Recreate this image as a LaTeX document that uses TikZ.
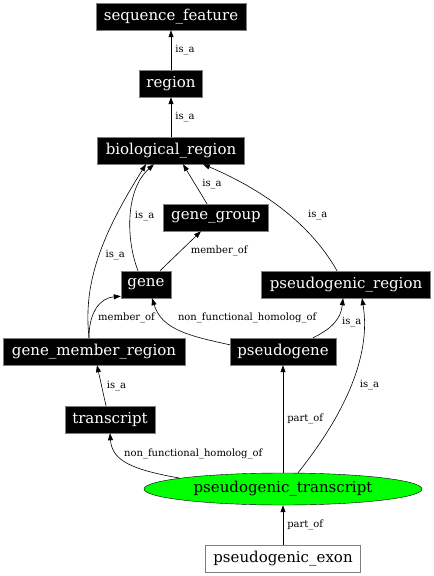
\documentclass[tikz,border=0pt]{standalone}
\usepackage{fontspec}
\setmainfont{DejaVu Serif}
\usepackage{xcolor}
\usetikzlibrary{arrows.meta,shapes.geometric}
\definecolor{Frame}{HTML}{7F7F7F}
\definecolor{Leaf}{HTML}{00FF00}

\begin{document}
\begin{tikzpicture}[x=1pt, y=-1pt,
  term/.style={draw=Frame, fill=black, text=white, inner xsep=4pt,
    minimum height=27pt, font=\fontsize{15pt}{17pt}\selectfont},
  focus/.style={ellipse, draw=black, fill=Leaf, inner sep=0pt,
    minimum width=278pt, minimum height=32pt, font=\fontsize{15pt}{17pt}\selectfont},
  plain/.style={term, fill=white, text=black},
  rel/.style={-{Triangle[length=7pt,width=5pt]}, line width=0.6pt, draw=black},
  lbl/.style={font=\fontsize{10pt}{12pt}\selectfont, inner sep=2pt}
]
  \useasboundingbox (0,0) rectangle (434,576);

  \node[term, minimum width=150pt] (seqfeat) at (171,16.5) {sequence\_feature};
  \node[term, minimum width=63pt] (region) at (171,83.5) {region};
  \node[term, minimum width=147pt] (bioreg) at (171,150.5) {biological\_region};
  \node[term, minimum width=105pt] (genegroup) at (216,217.5) {gene\_group};
  \node[term, minimum width=50pt] (gene) at (146,284.5) {gene};
  \node[term, minimum width=169pt] (pseuregion) at (346,284.5) {pseudogenic\_region};
  \node[term, minimum width=182pt] (genemember) at (94,351.5) {gene\_member\_region};
  \node[term, minimum width=106pt] (pseudogene) at (283,351.5) {pseudogene};
  \node[term, minimum width=90pt] (transcript) at (110,419.5) {transcript};
  \node[focus] (pseutrans) at (283,489) {pseudogenic\_transcript};
  \node[plain, minimum width=155pt] (pseuexon) at (283,558.5) {pseudogenic\_exon};

  \draw[rel] (region) -- node[lbl, right=2pt] {is\_a} (seqfeat);
  \draw[rel] (bioreg) -- node[lbl, right=2pt] {is\_a} (region);
  \draw[rel] ([xshift=-9pt]genegroup.north) -- node[lbl, right=5pt] {is\_a} ([xshift=12pt]bioreg.south);
  \draw[rel] ([xshift=-8pt]gene.north) .. controls (126,240) and (125,190) .. node[lbl, pos=0.5, right=2pt] {is\_a} ([xshift=-17pt]bioreg.south);
  \draw[rel] ([xshift=-5pt]genemember.north) .. controls (84,290) and (95,245) .. node[lbl, pos=0.55, right=4pt] {is\_a} ([xshift=-25pt]bioreg.south);
  \draw[rel] ([xshift=-9pt]pseuregion.north) .. controls (315,232) and (275,195) .. node[lbl, pos=0.5, right=17pt] {is\_a} ([xshift=32pt]bioreg.south);
  \draw[rel] ([xshift=14pt]gene.north) -- node[lbl, right=8pt] {member\_of} ([xshift=-15pt]genegroup.south);
  \draw[rel] ([xshift=-5pt]genemember.north) .. controls (89,312) and (100,298) .. node[lbl, pos=0.3, right=4pt] {member\_of} ([yshift=2pt]gene.south west);
  \draw[rel] ([yshift=-7pt]pseudogene.north west) .. controls (190,336) and (162,330) .. node[lbl, pos=0.5, anchor=west, xshift=-4pt, yshift=12pt] {non\_functional\_homolog\_of} ([xshift=6pt]gene.south);
  \draw[rel] ([xshift=30pt]pseudogene.north) .. controls (333,328) and (341,318) .. node[lbl, pos=0.5, right=5pt] {is\_a} ([xshift=-3pt]pseuregion.south);
  \draw[rel] ([xshift=-4pt]transcript.north) -- node[lbl, right=3pt] {is\_a} ([xshift=3pt]genemember.south);
  \draw[rel] (pseutrans.174) .. controls (135,470) and (112,462) .. node[lbl, pos=0.5, anchor=west, xshift=-7pt, yshift=10pt] {non\_functional\_homolog\_of} (transcript.south);
  \draw[rel] (pseutrans) -- node[lbl, right=2pt] {part\_of} (pseudogene);
  \draw[rel] ([xshift=15pt]pseutrans.north) .. controls (340,420) and (372,360) .. node[lbl, pos=0.5, right=8pt, yshift=4pt] {is\_a} ([xshift=16pt]pseuregion.south);
  \draw[rel] (pseuexon) -- node[lbl, right=2pt] {part\_of} (pseutrans);
\end{tikzpicture}
\end{document}
